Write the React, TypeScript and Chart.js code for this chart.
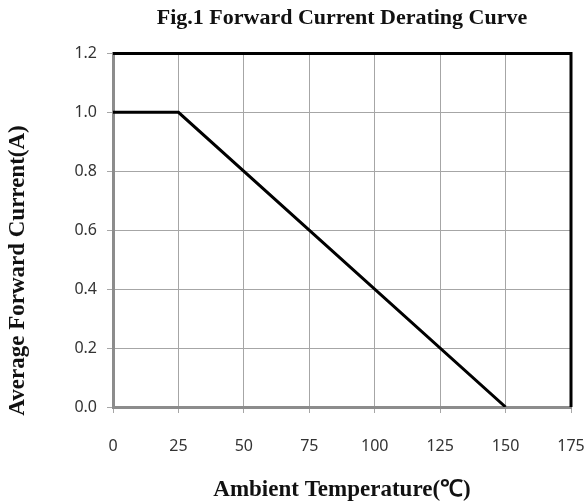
import React, { useEffect, useRef } from "react";
import { Chart, registerables } from "chart.js";

Chart.register(...registerables);

const chartTitle = "Fig.1 Forward Current Derating Curve";
const xTitle = "Ambient Temperature(℃)";
const yTitle = "Average Forward Current(A)";
const temperatures = [0, 25, 150];
const currents = [1.0, 1.0, 0.0];
const xMin = 0;
const xMax = 175;
const xStep = 25;
const yMin = 0;
const yMax = 1.2;
const yStep = 0.2;

const frameBorder = {
  id: "frameBorder",
  beforeDatasetsDraw(chart: any) {
    const { ctx, chartArea } = chart;
    ctx.save();
    ctx.strokeStyle = "#000";
    ctx.lineWidth = 3;
    ctx.beginPath();
    ctx.moveTo(chartArea.left, chartArea.top);
    ctx.lineTo(chartArea.right, chartArea.top);
    ctx.lineTo(chartArea.right, chartArea.bottom);
    ctx.stroke();
    ctx.restore();
  },
};

export default function App() {
  const ref = useRef<HTMLCanvasElement | null>(null);
  useEffect(() => {
    if (!ref.current) return;
    const family = "'Liberation Serif', 'Times New Roman', serif";
    const titleFont = { family, size: 22, weight: "bold" as const };
    const axisFont = { family, size: 23, weight: "bold" as const };
    const tickFont = { family: "'Noto Sans', 'Open Sans', sans-serif", size: 16 };
    const chart = new Chart(ref.current, {
      type: "line",
      data: {
        datasets: [
          {
            data: temperatures.map((t, i) => ({ x: t, y: currents[i] })),
            borderColor: "#000",
            borderWidth: 3,
            pointRadius: 0,
            fill: false,
            tension: 0,
          },
        ],
      },
      options: {
        animation: false,
        responsive: false,
        layout: { padding: { left: 0, right: 17, top: 0, bottom: 0 } },
        plugins: {
          legend: { display: false },
          tooltip: { enabled: false },
          title: {
            display: true,
            text: chartTitle,
            color: "#111",
            font: titleFont,
            fullSize: false,
            padding: { top: 5, bottom: 22 },
          },
        },
        scales: {
          x: {
            type: "linear",
            min: xMin,
            max: xMax,
            afterFit(scale: any) {
              scale.height = 97;
              scale.paddingRight = 0;
              scale.paddingLeft = 0;
            },
            ticks: {
              stepSize: xStep,
              color: "#333",
              font: tickFont,
              padding: 24,
              maxRotation: 0,
            },
            grid: { color: "#a6a6a6", lineWidth: 1, tickLength: 6, drawTicks: true },
            border: { color: "#8c8c8c", width: 3 },
            title: {
              display: true,
              text: xTitle,
              color: "#111",
              font: axisFont,
              padding: { top: 0, bottom: 0 },
            },
          },
          y: {
            type: "linear",
            min: yMin,
            max: yMax,
            afterFit(scale: any) {
              scale.width = 113;
              scale.paddingTop = 0;
              scale.paddingBottom = 0;
            },
            ticks: {
              stepSize: yStep,
              color: "#333",
              font: tickFont,
              padding: 10,
              callback: (v: any) => Number(v).toFixed(1),
            },
            grid: { color: "#a6a6a6", lineWidth: 1, tickLength: 6, drawTicks: true },
            border: { color: "#8c8c8c", width: 3 },
            title: {
              display: true,
              text: yTitle + "              ",
              color: "#111",
              font: axisFont,
              padding: { top: 4, bottom: 0 },
            },
          },
        },
      },
      plugins: [frameBorder],
    });
    return () => chart.destroy();
  }, []);
  return (
    <div style={{ position: "absolute", left: 0, top: 0, width: 588, height: 504, background: "#fff" }}>
      <canvas ref={ref} width={588} height={504} style={{ display: "block" }} />
    </div>
  );
}
